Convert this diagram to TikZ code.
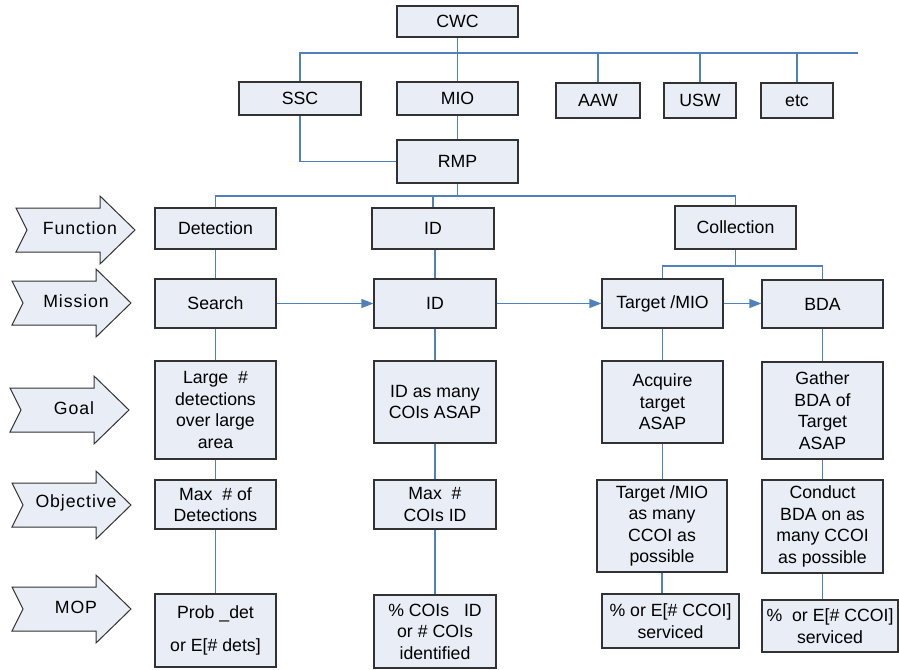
\documentclass[tikz,border=0pt]{standalone}
\usepackage{fontspec}
\setmainfont{Liberation Sans}
\newfontfamily\lblfont[LetterSpace=5]{Liberation Sans}
\usetikzlibrary{arrows.meta}
\definecolor{boxfill}{RGB}{232,237,246}
\definecolor{boxline}{RGB}{50,50,50}
\definecolor{connc}{RGB}{79,129,189}
\tikzset{
  box/.style={draw=boxline, fill=boxfill, line width=1.2pt, inner sep=0pt, align=center,
    font=\fontsize{17.7}{21.5}\selectfont},
  conn/.style={draw=connc, line width=1.2pt},
  arr/.style={conn, -{Triangle[length=12pt,width=9pt]}},
  chevshape/.style={draw=boxline, fill=boxfill, line width=1pt, line join=miter},
  lbl/.style={inner sep=0pt, font=\lblfont\fontsize{17.7}{21.5}\selectfont},
}
% name, x1, y1, x2, y2, text
\newcommand\bx[6]{%
  \node[box, minimum width={#4-#2}, minimum height={#5-#3}] (#1) at ({(#2+#4)/2},{(#3+#5)/2}) {#6};}
% name, left x, center y, label
\newcommand\chev[4]{%
  \draw[chevshape] (#2,#3-22) -- (#2+84,#3-22) -- (#2+84,#3-34) -- (#2+119,#3)
    -- (#2+84,#3+34) -- (#2+84,#3+22) -- (#2,#3+22) -- (#2+11,#3) -- cycle;
  \node[lbl] (#1) at (#2+64,#3-2) {#4};}
\begin{document}
\begin{tikzpicture}[x=1pt, y=-1pt]
\useasboundingbox (0,0) rectangle (899,669);

% top hierarchy
\bx{cwc}{397}{6}{518}{37}{CWC}
\bx{ssc}{239}{82}{361}{115}{SSC}
\bx{mio}{397}{82}{518}{115}{MIO}
\bx{aaw}{556}{83}{640}{118}{AAW}
\bx{usw}{664}{83}{736}{118}{USW}
\bx{etc}{761}{83}{833}{118}{etc}
\bx{rmp}{397}{140}{518}{183}{RMP}

% function row
\bx{det}{155}{208}{276}{249}{Detection}
\bx{idf}{372}{208}{494}{249}{ID}
\bx{col}{675}{206}{796}{249}{Collection}
% mission row
\bx{search}{155}{279}{276}{328}{Search}
\bx{idm}{374}{279}{496}{328}{ID}
\bx{tgt}{602}{279}{723}{328}{Target /MIO}
\bx{bda}{762}{280}{883}{328}{BDA}
% goal row
\bx{g1}{155}{361}{276}{459}{Large~~\#\\detections\\over large\\area}
\bx{g2}{374}{361}{496}{443}{ID as many\\COIs ASAP}
\bx{g3}{602}{361}{723}{443}{Acquire\\target\\ASAP}
\bx{g4}{762}{362}{883}{459}{Gather\\BDA of\\Target\\ASAP}
% objective row
\bx{o1}{155}{480}{276}{529}{Max~~\# of\\Detections}
\bx{o2}{374}{480}{496}{529}{Max~~\#\\COIs ID}
\bx{o3}{597}{480}{727}{572}{Target /MIO\\as many\\CCOI as\\possible}
\bx{o4}{762}{480}{883}{573}{Conduct\\BDA on as\\many CCOI\\as possible}
% MOP row
\bx{m1}{155}{594}{276}{667}{Prob \_det\\[12pt]or E[\# dets]}
\bx{m2}{374}{595}{496}{668}{\% COIs~~~ID\\or \# COIs\\identified}
\bx{m3}{602}{594}{739}{648}{\% or E[\# CCOI]\\serviced}
\bx{m4}{762}{600}{898}{652}{\%~~or E[\# CCOI]\\serviced}

% left chevrons
\chev{lfun}{16}{230}{Function}
\chev{lmis}{12}{303}{Mission}
\chev{lgoal}{10}{410}{Goal}
\chev{lobj}{12}{505}{Objective}
\chev{lmop}{12}{609}{MOP}

% connectors: top
\coordinate (busL) at (299,53);
\coordinate (busR) at (858,53);
\draw[conn] (busL) -- (busR);
\draw[conn] (cwc.south) -- (cwc.south |- busL);
\draw[conn] (ssc.north) -- (ssc.north |- busL);
\draw[conn] (mio.north) -- (mio.north |- busL);
\draw[conn] (aaw.north) -- (aaw.north |- busL);
\draw[conn] (usw.north) -- (usw.north |- busL);
\draw[conn] (etc.north) -- (etc.north |- busL);
\draw[conn] (mio.south) -- (rmp.north);
\draw[conn] (ssc.south) |- (rmp.west);

% RMP to functions
\coordinate (bus2) at (458,196);
\draw[conn] (rmp.south) -- (rmp.south |- bus2);
\draw[conn] (det.north) |- (col.north |- bus2) -- (col.north);
\draw[conn] (idf.north) -- (idf.north |- bus2);

% functions to missions
\draw[conn] (det.south) -- (search.north);
\draw[conn] (idm.north) -- (idm.north |- idf.south);
\coordinate (bus3) at (736,266);
\draw[conn] (col.south) -- (col.south |- bus3);
\draw[conn] (tgt.north) |- (bda.north |- bus3) -- (bda.north);

% mission arrows
\draw[arr] (search.east) -- (idm.west);
\draw[arr] (idm.east) -- (tgt.west);
\draw[arr] (tgt.east) -- (tgt.east -| bda.west);

% columns
\draw[conn] (search.south) -- (g1.north);
\draw[conn] (g1.south) -- (o1.north);
\draw[conn] (o1.south) -- (m1.north);
\draw[conn] (idm.south) -- (g2.north);
\draw[conn] (g2.south) -- (o2.north);
\draw[conn] (o2.south) -- (m2.north);
\draw[conn] (tgt.south) -- (g3.north);
\draw[conn] (g3.south) -- (g3.south |- o3.north);
\draw[conn] (o3.south) -- (o3.south |- m3.north);
\draw[conn] (bda.south) -- (g4.north);
\draw[conn] (g4.south) -- (o4.north);
\draw[conn] (o4.south) -- (o4.south |- m4.north);
\end{tikzpicture}
\end{document}
